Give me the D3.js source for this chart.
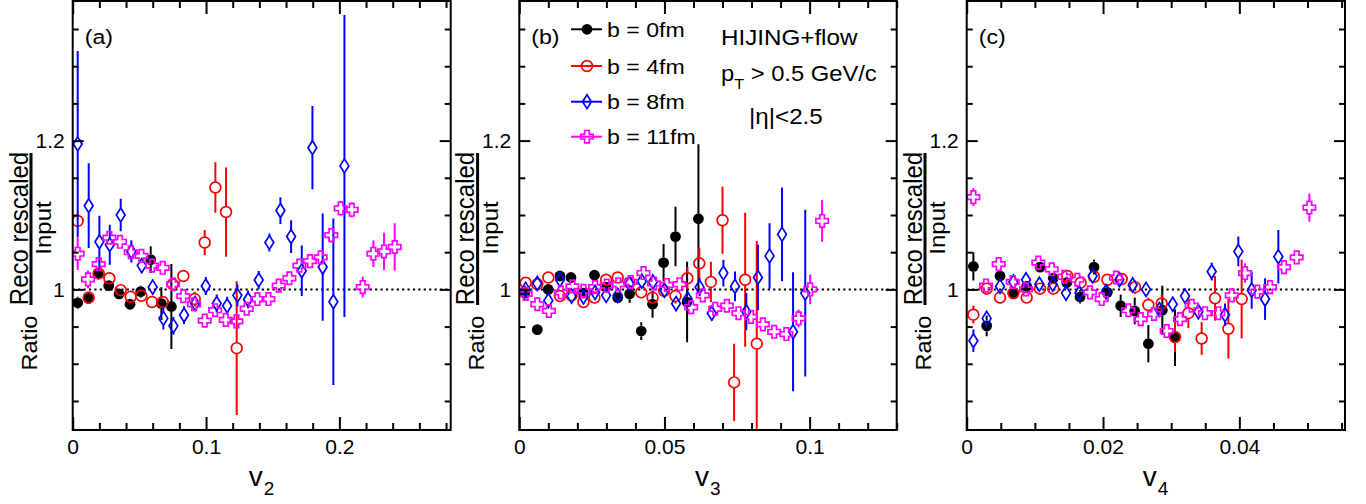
<!DOCTYPE html>
<html><head><meta charset="utf-8">
<script src="https://cdn.jsdelivr.net/npm/d3@7"></script>
<style>
html,body{margin:0;padding:0;background:#fff;}
svg{display:block;font-family:"Liberation Sans",Arial,Helvetica,sans-serif;}
</style></head>
<body>
<svg id="chart" width="1366" height="504"></svg>
<script>
// ---------- DATA ----------  each point: [v_n, ratio, error]
const legendLabels = ["b = 0fm", "b = 4fm", "b = 8fm", "b = 11fm"];
const seriesColors = ["#000000", "#ff0000", "#0000ff", "#ff00ff"];
const panelLetters = ["(a)", "(b)", "(c)"];
const harmonicSubs = ["2", "3", "4"];
const yTickValues = [1, 1.2];
const xTicksA = [0, 0.1, 0.2];
const xTicksB = [0, 0.05, 0.1];
const xTicksC = [0, 0.02, 0.04];
const infoLines = ["HIJING+flow", "p_T > 0.5 GeV/c", "|η|<2.5"];

// panel (a): v2
const v2B0 = [[0.00375,0.982,0.008],[0.0118,0.988,0.006],[0.019,1.021,0.006],[0.027,1.005,0.005],[0.0348,0.994,0.005],[0.043,0.980,0.006],[0.051,0.997,0.008],[0.0585,1.040,0.018],[0.0665,0.981,0.022],[0.074,0.977,0.057]];
const v2B4 = [[0.00375,1.092,0.008],[0.012,0.989,0.006],[0.0195,1.0215,0.006],[0.0275,1.015,0.005],[0.036,0.999,0.005],[0.0435,0.990,0.005],[0.0515,0.9915,0.005],[0.0595,0.983,0.006],[0.0675,0.983,0.007],[0.075,1.007,0.008],[0.083,1.018,0.008],[0.0915,0.987,0.010],[0.099,1.063,0.017],[0.107,1.137,0.034],[0.115,1.104,0.060],[0.123,0.921,0.090]];
const v2B8 = [[0.00375,1.1955,0.125],[0.012,1.1125,0.057],[0.020,1.064,0.035],[0.0278,1.060,0.027],[0.036,1.100,0.022],[0.044,1.051,0.015],[0.0518,1.032,0.010],[0.060,1.003,0.010],[0.068,0.961,0.015],[0.0755,0.951,0.012],[0.0835,0.9655,0.012],[0.0918,0.981,0.010],[0.0998,1.0045,0.012],[0.108,0.981,0.012],[0.1158,0.978,0.012],[0.1235,0.992,0.015],[0.1315,0.9865,0.012],[0.1395,1.0126,0.012],[0.1475,1.063,0.012],[0.1558,1.106,0.018],[0.1638,1.071,0.022],[0.1718,1.025,0.034],[0.1798,1.1905,0.056],[0.1875,1.030,0.072],[0.1955,0.9834,0.112],[0.2038,1.166,0.203]];
const v2B11 = [[0.00375,1.048,0.022],[0.0115,1.0135,0.012],[0.0195,1.034,0.008],[0.0275,1.0695,0.008],[0.0355,1.064,0.006],[0.0435,1.050,0.006],[0.0515,1.045,0.006],[0.0595,1.032,0.006],[0.0675,1.029,0.006],[0.0753,1.007,0.006],[0.083,0.991,0.006],[0.091,0.980,0.006],[0.099,0.958,0.006],[0.1068,0.972,0.006],[0.1148,0.959,0.006],[0.1228,0.957,0.007],[0.1305,0.974,0.007],[0.1385,0.987,0.007],[0.1468,0.987,0.007],[0.1545,1.005,0.007],[0.1625,1.015,0.007],[0.170,1.032,0.008],[0.178,1.038,0.008],[0.186,1.043,0.008],[0.194,1.073,0.010],[0.201,1.109,0.010],[0.2093,1.107,0.010],[0.2175,1.003,0.014],[0.2255,1.048,0.018],[0.2335,1.051,0.025],[0.2415,1.057,0.032]];

// panel (b): v3
const v3B0 = [[0.0019,0.995,0.010],[0.0062,0.946,0.006],[0.0100,1.000,0.006],[0.0140,1.018,0.005],[0.0178,1.016,0.005],[0.0221,0.995,0.006],[0.0259,1.019,0.005],[0.0299,1.003,0.006],[0.0339,0.989,0.007],[0.0380,0.994,0.012],[0.0420,0.944,0.012],[0.0459,0.980,0.018],[0.0497,1.036,0.025],[0.0538,1.071,0.040],[0.0578,0.983,0.054],[0.0617,1.095,0.100]];
const v3B4 = [[0.0022,1.009,0.006],[0.0062,1.007,0.005],[0.0100,1.016,0.005],[0.0140,0.991,0.005],[0.0180,0.992,0.005],[0.0221,0.983,0.005],[0.0259,0.989,0.005],[0.0299,1.013,0.005],[0.0339,1.016,0.005],[0.0379,1.009,0.006],[0.0420,0.996,0.006],[0.0459,0.989,0.008],[0.0499,0.998,0.009],[0.0538,0.991,0.010],[0.0579,1.015,0.015],[0.0620,1.035,0.021],[0.0660,1.010,0.027],[0.0700,1.093,0.045],[0.0740,0.875,0.052],[0.0778,1.013,0.090],[0.0818,0.927,0.138]];
const v3B8 = [[0.0022,1.000,0.010],[0.0062,1.008,0.006],[0.0100,0.985,0.008],[0.0140,1.013,0.006],[0.0180,0.991,0.005],[0.0221,0.990,0.005],[0.0261,0.996,0.005],[0.0299,0.992,0.005],[0.0339,0.992,0.005],[0.0379,1.008,0.006],[0.0422,1.011,0.007],[0.0460,1.010,0.008],[0.0500,0.999,0.008],[0.0540,0.981,0.010],[0.0580,0.987,0.010],[0.0621,1.003,0.012],[0.0663,0.968,0.010],[0.0703,1.022,0.018],[0.0743,1.004,0.020],[0.0782,0.970,0.025],[0.0822,1.016,0.044],[0.0862,1.045,0.044],[0.0905,1.074,0.063],[0.0943,0.943,0.080],[0.0985,0.995,0.112]];
const v3B11 = [[0.0022,0.994,0.006],[0.0062,0.980,0.005],[0.0102,0.971,0.005],[0.0143,0.996,0.005],[0.0183,1.004,0.005],[0.0221,0.998,0.005],[0.0261,1.003,0.005],[0.0301,1.005,0.005],[0.0341,1.007,0.005],[0.0384,1.010,0.005],[0.0428,1.022,0.006],[0.0464,1.008,0.006],[0.0508,1.006,0.006],[0.0552,1.007,0.006],[0.0592,0.976,0.006],[0.0632,0.992,0.006],[0.0675,0.974,0.006],[0.0715,0.978,0.006],[0.0755,0.968,0.006],[0.0798,0.963,0.006],[0.0839,0.953,0.007],[0.0878,0.943,0.007],[0.0920,0.940,0.008],[0.0962,0.961,0.012],[0.1002,1.000,0.020],[0.1043,1.092,0.028]];

// panel (c): v4
const v4B0 = [[0.00098,1.031,0.019],[0.00293,0.951,0.014],[0.00489,1.018,0.008],[0.00685,0.994,0.006],[0.00880,1.004,0.006],[0.01076,1.030,0.007],[0.01271,1.015,0.007],[0.01467,1.009,0.008],[0.01663,0.990,0.009],[0.01868,1.030,0.010],[0.02064,0.996,0.010],[0.02259,0.978,0.015],[0.02465,0.971,0.018],[0.02665,0.927,0.025],[0.02870,0.972,0.033],[0.03056,0.935,0.038]];
const v4B4 = [[0.00098,0.966,0.012],[0.00293,1.001,0.006],[0.00489,0.989,0.005],[0.00685,0.995,0.005],[0.00880,0.989,0.005],[0.01076,1.001,0.005],[0.01271,1.001,0.005],[0.01477,1.018,0.006],[0.01672,1.009,0.006],[0.01868,1.017,0.006],[0.02064,1.013,0.007],[0.02274,1.014,0.008],[0.02469,1.003,0.009],[0.02665,0.979,0.010],[0.02861,0.981,0.012],[0.03056,0.936,0.020],[0.03252,0.968,0.020],[0.03447,0.934,0.022],[0.03643,0.988,0.030],[0.03839,0.947,0.040],[0.04034,0.987,0.053]];
const v4B8 = [[0.00098,0.931,0.015],[0.00293,0.961,0.010],[0.00489,1.004,0.008],[0.00685,1.010,0.006],[0.00870,1.013,0.006],[0.01066,1.007,0.006],[0.01262,1.007,0.006],[0.01457,0.995,0.006],[0.01653,0.995,0.007],[0.01848,1.018,0.007],[0.02044,0.997,0.008],[0.02240,1.013,0.008],[0.02435,1.006,0.008],[0.02631,1.000,0.008],[0.02826,0.973,0.009],[0.03022,0.980,0.010],[0.03203,0.991,0.010],[0.03399,0.970,0.010],[0.03594,1.024,0.012],[0.03790,0.966,0.015],[0.03985,1.051,0.020],[0.04181,0.999,0.025],[0.04377,0.987,0.028],[0.04572,1.044,0.036]];
const v4B11 = [[0.00098,1.124,0.012],[0.00284,1.005,0.005],[0.00469,1.034,0.005],[0.00675,1.010,0.005],[0.00870,1.000,0.005],[0.01051,1.036,0.005],[0.01247,1.027,0.005],[0.01433,1.017,0.005],[0.01623,1.013,0.005],[0.01809,0.996,0.005],[0.01980,0.987,0.005],[0.02191,1.016,0.006],[0.02372,0.972,0.006],[0.02553,0.960,0.006],[0.02748,0.967,0.006],[0.02934,0.944,0.006],[0.03130,0.960,0.006],[0.03301,0.978,0.006],[0.03496,0.968,0.007],[0.03692,0.968,0.007],[0.03888,0.992,0.008],[0.04083,1.022,0.013],[0.04264,0.997,0.008],[0.04450,1.003,0.008],[0.04655,1.030,0.008],[0.04841,1.043,0.009],[0.05027,1.110,0.019]];

// ---------- LAYOUT ----------
const svg = d3.select("#chart");
const FONT = '"Liberation Sans",Arial,Helvetica,sans-serif';
const frameTop = 1, frameBottom = 430;
const y = d3.scaleLinear().domain([0.811, 1.389]).range([frameBottom, 0]);

const panels = [
  {left: 72.7, right: 450.7, dom: [0, 0.2835], major: xTicksA, minorStep: 0.02, data: [v2B0, v2B4, v2B8, v2B11]},
  {left: 519.3, right: 896.7, dom: [0, 0.1300], major: xTicksB, minorStep: 0.01, data: [v3B0, v3B4, v3B8, v3B11]},
  {left: 966.7, right: 1345, dom: [0, 0.0555], major: xTicksC, minorStep: 0.005, data: [v4B0, v4B4, v4B8, v4B11]}
];

function rangeStep(a, b, s) { const out = []; for (let i = 0; a + i * s <= b + 1e-9; i++) out.push(+(a + i * s).toFixed(6)); return out; }
const fmt = d => String(+(+d).toFixed(4));

// marker shapes
function drawMarker(g, type, cx, cy, color) {
  if (type === 0) {
    g.append("circle").attr("cx", cx).attr("cy", cy).attr("r", 5.4).attr("fill", color);
  } else if (type === 1) {
    g.append("circle").attr("cx", cx).attr("cy", cy).attr("r", 5.4).attr("fill", "none").attr("stroke", color).attr("stroke-width", 1.7);
  } else if (type === 2) {
    const w = 4.4, h = 7;
    g.append("path").attr("d", `M${cx},${cy - h}L${cx + w},${cy}L${cx},${cy + h}L${cx - w},${cy}Z`)
      .attr("fill", "none").attr("stroke", color).attr("stroke-width", 1.7);
  } else {
    const s = 6.2, t = 2.3;
    const pts = [[-t,-s],[t,-s],[t,-t],[s,-t],[s,t],[t,t],[t,s],[-t,s],[-t,t],[-s,t],[-s,-t],[-t,-t]];
    g.append("path").attr("d", "M" + pts.map(p => (cx + p[0]) + "," + (cy + p[1])).join("L") + "Z")
      .attr("fill", "none").attr("stroke", color).attr("stroke-width", 1.7);
  }
}
const markerHalf = [5.4, 5.4, 7, 6.2];

panels.forEach((p, pi) => {
  const x = d3.scaleLinear().domain(p.dom).range([p.left, p.right]);
  const g = svg.append("g");
  const clipId = "clip" + pi;
  svg.append("defs").append("clipPath").attr("id", clipId)
    .append("rect").attr("x", p.left).attr("y", frameTop).attr("width", p.right - p.left).attr("height", frameBottom - frameTop);

  // dotted reference line at 1
  g.append("line").attr("x1", p.left).attr("x2", p.right).attr("y1", y(1)).attr("y2", y(1))
    .attr("stroke", "#000").attr("stroke-width", 2).attr("stroke-dasharray", "2.2,3.2");

  // data
  const dg = g.append("g").attr("clip-path", `url(#${clipId})`);
  p.data.forEach((ser, si) => {
    const col = seriesColors[si];
    const sg = dg.append("g");
    ser.forEach(d => {
      const cx = x(d[0]), cy = y(d[1]);
      const yt = y(d[1] + d[2]), yb = y(d[1] - d[2]);
      const h = markerHalf[si];
      if (cy - yt > h) sg.append("line").attr("x1", cx).attr("x2", cx).attr("y1", yt).attr("y2", cy - h).attr("stroke", col).attr("stroke-width", 2);
      if (yb - cy > h) sg.append("line").attr("x1", cx).attr("x2", cx).attr("y1", cy + h).attr("y2", yb).attr("stroke", col).attr("stroke-width", 2);
      drawMarker(sg, si, cx, cy, col);
    });
  });

  // axes (inward ticks)
  const minors = rangeStep(p.dom[0], p.dom[1], p.minorStep).filter(v => !p.major.some(m => Math.abs(m - v) < 1e-9));
  const yMinors = rangeStep(0.85, 1.35, 0.05).filter(v => !yTickValues.some(m => Math.abs(m - v) < 1e-9));

  const styleAxis = sel => {
    sel.select(".domain").remove();
    sel.selectAll("line").attr("stroke", "#000").attr("stroke-width", 2);
    sel.selectAll("text").attr("font-family", FONT).attr("font-size", 21).attr("fill", "#000");
  };
  g.append("g").attr("transform", `translate(0,${frameBottom})`)
    .call(d3.axisBottom(x).tickValues(p.major).tickSize(-13).tickPadding(9).tickFormat(fmt)).call(styleAxis);
  g.append("g").attr("transform", `translate(0,${frameBottom})`)
    .call(d3.axisBottom(x).tickValues(minors).tickSize(-7).tickFormat("")).call(styleAxis);
  g.append("g").attr("transform", `translate(0,${frameTop})`)
    .call(d3.axisTop(x).tickValues(p.major).tickSize(-13).tickFormat("")).call(styleAxis);
  g.append("g").attr("transform", `translate(0,${frameTop})`)
    .call(d3.axisTop(x).tickValues(minors).tickSize(-7).tickFormat("")).call(styleAxis);

  g.append("g").attr("transform", `translate(${p.left},0)`)
    .call(d3.axisLeft(y).tickValues(yTickValues).tickSize(-11).tickPadding(8).tickFormat(fmt)).call(styleAxis);
  g.append("g").attr("transform", `translate(${p.left},0)`)
    .call(d3.axisLeft(y).tickValues(yMinors).tickSize(-6).tickFormat("")).call(styleAxis);
  g.append("g").attr("transform", `translate(${p.right},0)`)
    .call(d3.axisRight(y).tickValues(yTickValues).tickSize(-11).tickFormat("")).call(styleAxis);
  g.append("g").attr("transform", `translate(${p.right},0)`)
    .call(d3.axisRight(y).tickValues(yMinors).tickSize(-6).tickFormat("")).call(styleAxis);

  // frame
  g.append("rect").attr("x", p.left).attr("y", frameTop).attr("width", p.right - p.left).attr("height", frameBottom - frameTop)
    .attr("fill", "none").attr("stroke", "#000").attr("stroke-width", 2);

  // panel letter
  g.append("text").attr("transform", `translate(${p.left + 12},44) scale(1.1,1)`)
    .attr("font-size", 21).attr("font-family", FONT).text(panelLetters[pi]);

  // x title v_n
  const cxm = (p.left + p.right) / 2;
  const xt = g.append("text").attr("x", cxm - 13).attr("y", 486).attr("font-family", FONT).attr("font-size", 28);
  xt.append("tspan").text("v");
  xt.append("tspan").attr("font-size", 19).attr("dy", 9).attr("dx", 1).text(harmonicSubs[pi]);

  // y title: Ratio  Reco rescaled / Input
  const off = p.left - 72.7;
  const rot = (bx, cy, sx, fs, txt) => g.append("text")
    .attr("transform", `translate(${bx + off},${cy}) scale(${sx},1) rotate(-90)`)
    .attr("text-anchor", "middle").attr("font-family", FONT).attr("font-size", fs).text(txt);
  rot(27.5, 228.5, 1.1, 24, "Reco rescaled");
  rot(51, 228, 0.92, 24, "Input");
  rot(37, 343, 0.95, 23.5, "Ratio");
  g.append("line").attr("x1", 31 + off).attr("x2", 31 + off).attr("y1", 153).attr("y2", 305)
    .attr("stroke", "#000").attr("stroke-width", 3);
});

// ---------- LEGEND ----------
const lg = svg.append("g");
const legY = [29.3, 66, 101.7, 136.7];
legendLabels.forEach((lab, i) => {
  const yy = legY[i];
  lg.append("line").attr("x1", 571).attr("x2", 602).attr("y1", yy).attr("y2", yy)
    .attr("stroke", seriesColors[i]).attr("stroke-width", 2);
  drawMarker(lg, i, 587, yy, seriesColors[i]);
  lg.append("text").attr("transform", `translate(607,${yy + 7.5}) scale(1.1,1)`)
    .attr("font-family", FONT).attr("font-size", 21).text(lab);
});

// ---------- INFO TEXT ----------
const info = svg.append("g").attr("font-family", FONT).attr("font-size", 22);
info.append("text").attr("transform", "translate(721,45) scale(1.1,1)").text(infoLines[0]);
const pt = info.append("text").attr("transform", "translate(721,81) scale(1.08,1)");
pt.append("tspan").text("p");
pt.append("tspan").attr("font-size", 15).attr("dy", 8).text("T");
pt.append("tspan").attr("dy", -8).text(" > 0.5 GeV/c");
info.append("text").attr("transform", "translate(749,124) scale(1.1,1)").text(infoLines[2]);
</script>
</body></html>
